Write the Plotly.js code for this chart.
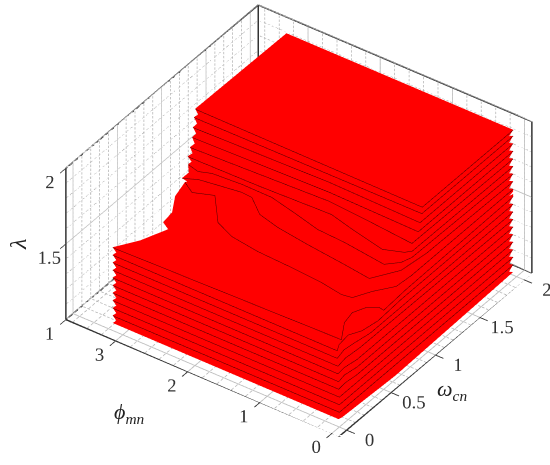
<!DOCTYPE html>
<html><head><meta charset="utf-8">
<script src="https://cdn.plot.ly/plotly-3.0.1.min.js"></script>
<style>html,body{margin:0;padding:0;background:#fff}#c{width:550px;height:465px}</style>
</head><body><div id="c"></div>
<script>
var omegaRange=[-0.08,2.09], phiRange=[-0.1,3.69], lambdaRange=[1,2];
var omegaTicks=[0,0.5,1,1.5,2], phiTicks=[0,1,2,3], lambdaTicks=[1,1.5,2];
var levelValues=[1.05,1.1,1.15,1.2,1.25,1.3,1.35,1.4,1.45,1.5,1.55,1.6,1.65,1.7,1.75,1.8,1.85,1.9,1.95,1.99];
var w1=[0,0,0.6,1.96],p1=[3.14,0,-0.04,0];
var w2=[0,0,1.96],p2=[3.14,0,0];
var w3=[0,0,1.96],p3=[3.14,0,0];
var w4=[0,0,1.96],p4=[3.14,0,0];
var w5=[0,0,0.08,0.2,1.96],p5=[3.14,0.01,0.02,0,0];
var w6=[0,0,0.08,0.2,1.96],p6=[3.14,0.01,0.03,0,0];
var w7=[0,0,0.08,0.2,1.96],p7=[3.14,0.02,0.03,0,0];
var w8=[0,0,0.1,0.25,1.96],p8=[3.14,0.02,0.04,0.02,0];
var w9=[0,0,0.1,0.2,0.35,1.96],p9=[3.14,0.03,0.06,0.04,0,0];
var w10=[0,0,0.06,0.18,0.27,0.42,0.7,1.96],p10=[3.14,0.03,0.08,0.1,0.02,-0.02,0,0];
var w11=[0,0.047,0.209,0.328,0.426,0.475,0.467,0.737,1.96],p11=[3.14,0.03,0.188,0.224,0.151,0.032,-0.04,-0.02,0];
var w12=[0.783,0.72,0.78,0.552,0.48,0.445,0.431,0.411,0.38,0.394,0.524,0.658,0.81,1.96],p12=[3.1,2.926,2.683,2.36,2.08,1.677,1.19,0.753,0.439,0.305,0.188,0.022,0,0];
var w13=[0.74,0.791,0.811,0.842,0.835,0.714,0.667,0.628,0.59,0.56,0.752,1.0,1.96],p13=[3.088,2.93,2.72,2.386,2.239,1.98,1.673,1.213,0.656,0.274,0.069,0.02,0];
var w14=[0.819,0.794,0.83,0.846,0.843,0.786,0.732,0.719,0.674,0.755,0.84,1.96],p14=[3.1,2.934,2.784,2.39,1.973,1.558,1.2,0.813,0.21,0.073,0.027,0];
var w15=[0.82,0.828,0.85,0.797,0.733,0.79,0.83,1.96],p15=[3.107,2.12,1.155,0.8,0.306,0.07,0.01,0];
var w16=[0.843,0.867,0.891,0.864,0.83,1.96],p16=[3.104,2.168,1.233,0.647,0.014,0];
var w17=[0.872,0.904,0.89,1.96],p17=[3.11,1.25,0,0];
var w18=[0.896,0.925,0.91,1.96],p18=[3.129,1.27,0,0];
var w19=[0.922,0.93,1.96],p19=[3.146,0,0];
var w20=[0.947,0.935,1.96],p20=[3.16,0,0];
var backW=[1.96,1.96],backP=[3.14,0];
var ledgeW=[0.154,0.347,0.379,0.491,0.634],ledgeP=[2.947,2.798,2.907,2.92,3.054],ledgeZ=[1.558,1.566,1.574,1.582,1.59];
var W=[w1,w2,w3,w4,w5,w6,w7,w8,w9,w10,w11,w12,w13,w14,w15,w16,w17,w18,w19,w20];
var P=[p1,p2,p3,p4,p5,p6,p7,p8,p9,p10,p11,p12,p13,p14,p15,p16,p17,p18,p19,p20];

var N=120;
function resample(wa,pa){
  var s=[0],i;
  for(i=1;i<wa.length;i++)s.push(s[i-1]+Math.hypot(wa[i]-wa[i-1],pa[i]-pa[i-1]));
  var o={w:[],p:[]},t=s[s.length-1],k=1;
  for(i=0;i<N;i++){
    var d=t*i/(N-1);
    while(k<s.length-1&&s[k]<d)k++;
    var f=(d-s[k-1])/((s[k]-s[k-1])||1);
    o.w.push(wa[k-1]+f*(wa[k]-wa[k-1]));
    o.p.push(pa[k-1]+f*(pa[k]-pa[k-1]));
  }
  return o;
}
var X=[],Y=[],Z=[];
function pushRow(r,z){X.push(r.w);Y.push(r.p);Z.push(r.w.map(function(){return z;}));}
function insetRight(r){[0.045,0.03,0.015].forEach(function(d,i){r.w[N-1-i]-=d;});return r;}
function midRow(a,b){
  var r={w:[],p:[]};
  for(var i=0;i<N;i++){r.w.push((a.w[i]+b.w[i])/2);r.p.push((a.p[i]+b.p[i])/2);}
  [0.05,0.035,0.02].forEach(function(d,i){r.p[i]-=d;});
  return insetRight(r);
}
var rows=W.map(function(w,i){return resample(w,P[i]);});
rows.forEach(function(r,i){
  pushRow(r,levelValues[i]);
  if(i===10){
    ledgeW.forEach(function(lw,j){
      var idx=3,lr=resample([lw].concat(w12.slice(idx)),[ledgeP[j]].concat(p12.slice(idx)));
      if(j===2)insetRight(lr);
      pushRow(lr,ledgeZ[j]);
    });
  } else if(i<rows.length-1){
    pushRow(midRow(r,rows[i+1]),(levelValues[i]+levelValues[i+1])/2);
  }
});
pushRow(resample(backW,backP),levelValues[19]);
var S=Z.map(function(r){return r.map(function(){return 0;});});
var surface={type:'surface',x:X,y:Y,z:Z,surfacecolor:S,cmin:0,cmax:1,showscale:false,
  colorscale:[[0,'#ff0000'],[1,'#ff0000']],hoverinfo:'skip',
  lighting:{ambient:1,diffuse:0,specular:0,fresnel:0,roughness:1},
  contours:{x:{highlight:false},y:{highlight:false},z:{highlight:false}}};

// contour lines, nudged along the view direction so that they stay in front of the sheet
var lx=[],ly=[],lz=[];
for(var k=1;k<W.length;k++){
  for(var i=0;i<W[k].length;i++){lx.push(W[k][i]-0.014);ly.push(P[k][i]-0.018);lz.push(levelValues[k]+0.008);}
  lx.push(null);ly.push(null);lz.push(null);
}
var contourLines={type:'scatter3d',mode:'lines',x:lx,y:ly,z:lz,hoverinfo:'skip',showlegend:false,line:{color:'#4a0000',width:1}};

// box frame
var a=omegaRange,b=phiRange,c=lambdaRange;
var fx=[a[0],a[0],null,a[1],a[1],null,a[1],a[1],null,a[0],a[1],a[1],null,a[0],a[1],a[1],null,a[0],a[0],a[1]];
var fy=[b[1],b[1],null,b[1],b[1],null,b[0],b[0],null,b[1],b[1],b[0],null,b[1],b[1],b[0],null,b[1],b[0],b[0]];
var fz=[c[0],c[1],null,c[0],c[1],null,c[0],c[1],null,c[1],c[1],c[1],null,c[0],c[0],c[0],null,c[0],c[0],c[0]];
var frame={type:'scatter3d',mode:'lines',x:fx,y:fy,z:fz,hoverinfo:'skip',showlegend:false,line:{color:'#333333',width:3}};

// minor grid on the three back planes: short pieces give the dotted look
var mx=[],my=[],mz=[];
function seg(p,q){
  var len=Math.hypot((q[0]-p[0])*89,(q[1]-p[1])*72.5,(q[2]-p[2])*152), n=Math.round(len/4);
  for(var t=0;t<n;t++){
    var f=t/n,g=(t+0.6)/n;
    mx.push(p[0]+f*(q[0]-p[0]),p[0]+g*(q[0]-p[0]),null);
    my.push(p[1]+f*(q[1]-p[1]),p[1]+g*(q[1]-p[1]),null);
    mz.push(p[2]+f*(q[2]-p[2]),p[2]+g*(q[2]-p[2]),null);
  }
}
var v;
for(v=0;v<=2.001;v+=0.1){seg([v,b[1],c[0]],[v,b[1],c[1]]);seg([v,b[0],c[0]],[v,b[1],c[0]]);}
for(v=0;v<=3.601;v+=0.2){seg([a[1],v,c[0]],[a[1],v,c[1]]);seg([a[0],v,c[0]],[a[1],v,c[0]]);}
for(v=1;v<=2.001;v+=0.1){seg([a[0],b[1],v],[a[1],b[1],v]);seg([a[1],b[0],v],[a[1],b[1],v]);}
var minorGrid={type:'scatter3d',mode:'lines',x:mx,y:my,z:mz,hoverinfo:'skip',showlegend:false,line:{color:'#b4b4b4',width:1.5}};

var tf={family:'Liberation Serif, serif',size:15,color:'#333333'};
function ax(range,ticks,labels){return {range:range,autorange:false,tickmode:'array',tickvals:ticks,ticktext:labels,tickangle:0,
  title:{text:''},showbackground:false,showgrid:true,gridcolor:'#c4c4c4',gridwidth:2,zeroline:false,showline:false,
  ticks:'outside',ticklen:10,tickwidth:2,tickcolor:'#333333',tickfont:tf,showspikes:false};}
var cc={x:-0.0845,y:0.066,z:-0.041};
var layout={width:550,height:465,margin:{l:0,r:0,t:0,b:0},paper_bgcolor:'#fff',showlegend:false,
  scene:{domain:{x:[0,1],y:[0,1]},
    aspectmode:'manual',aspectratio:{x:1.431,y:1.442,z:0.815},
    camera:{projection:{type:'orthographic'},up:{x:0,y:0,z:1},center:cc,eye:{x:-0.652*1.2+cc.x,y:-0.462*1.2+cc.y,z:0.601*1.2+cc.z}},
    xaxis:ax(omegaRange,omegaTicks,['0','0.5','1','1.5','2']),
    yaxis:ax(phiRange,phiTicks,['0','1','2','3']),
    zaxis:ax(lambdaRange,lambdaTicks,['1','1.5','2'])},
  annotations:[
    {xref:'paper',yref:'paper',x:129/550,y:1-413/465,xanchor:'center',yanchor:'middle',showarrow:false,text:'<i>ϕ</i><sub><i>mn</i></sub>',font:{family:'Liberation Serif, serif',size:22,color:'#222'}},
    {xref:'paper',yref:'paper',x:452/550,y:1-390/465,xanchor:'center',yanchor:'middle',showarrow:false,text:'<i>ω</i><sub><i>cn</i></sub>',font:{family:'Liberation Serif, serif',size:22,color:'#222'}},
    {xref:'paper',yref:'paper',x:18/550,y:1-245/465,xanchor:'center',yanchor:'middle',showarrow:false,textangle:-90,text:'<i>λ</i>',font:{family:'Liberation Serif, serif',size:24,color:'#222'}}
  ]};
Plotly.newPlot('c',[minorGrid,surface,contourLines,frame],layout,{displayModeBar:false});
</script></body></html>
